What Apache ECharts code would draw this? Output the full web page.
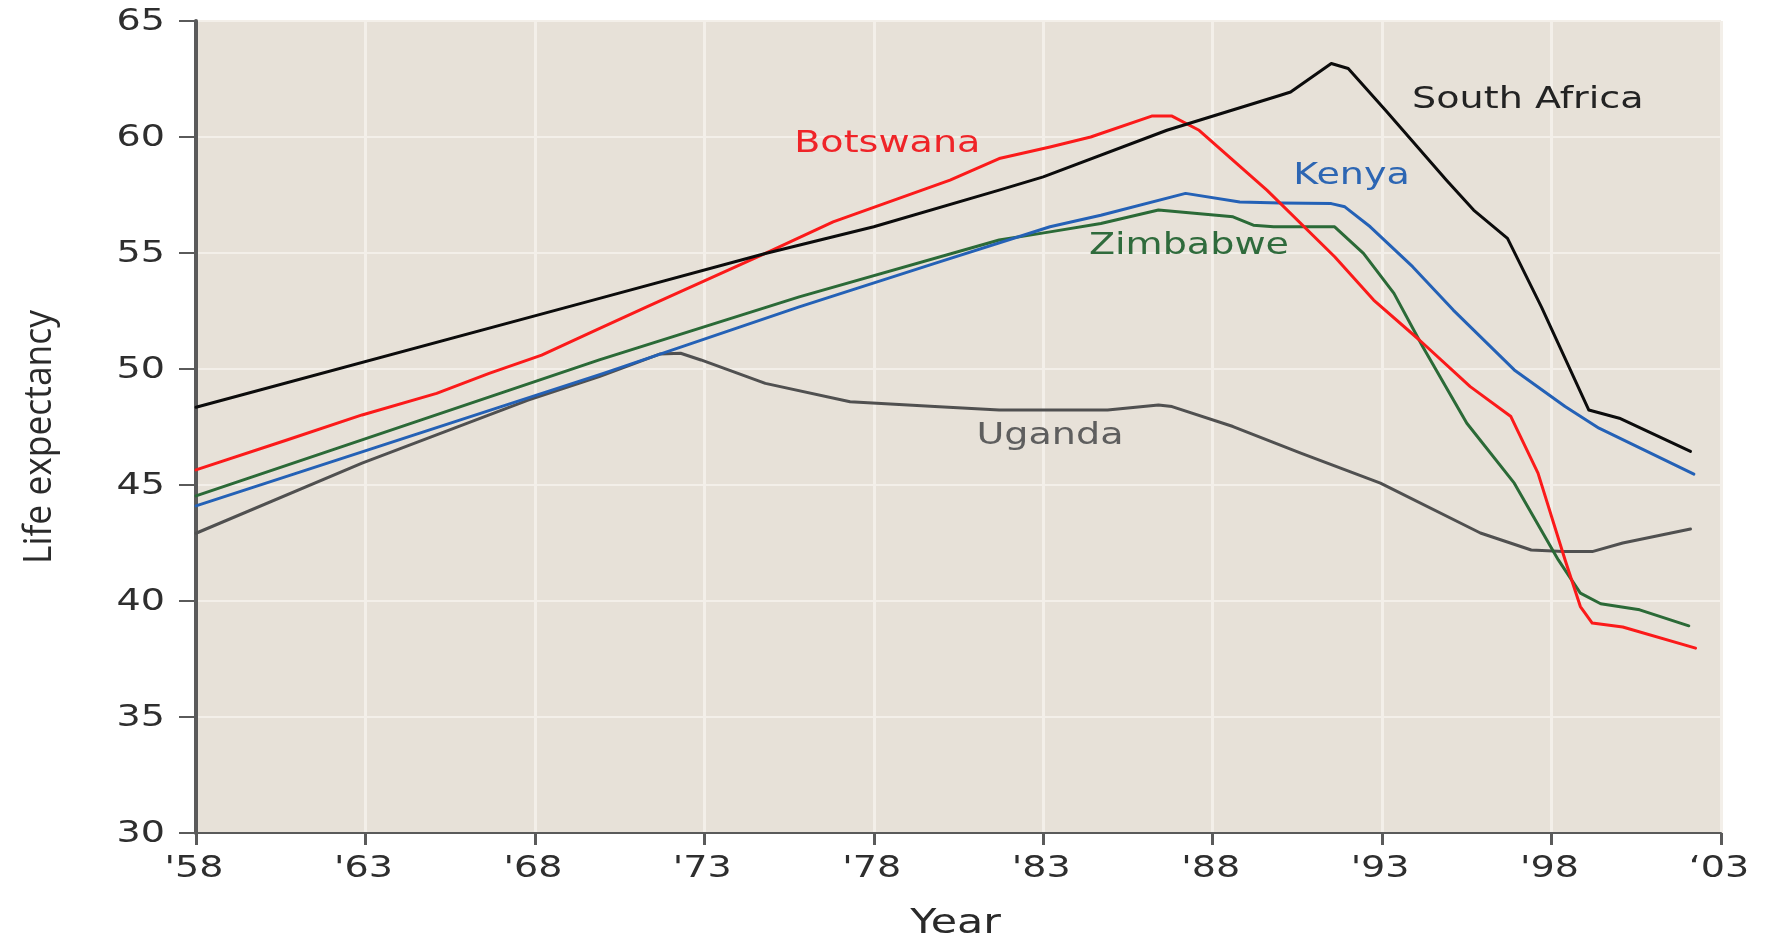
<!DOCTYPE html>
<html>
<head>
<meta charset="utf-8">
<title>Life expectancy</title>
<script src="https://cdn.jsdelivr.net/npm/echarts@6/dist/echarts.min.js"></script>
<style>
  html, body { margin: 0; padding: 0; background: #ffffff; }
  #chart { width: 1770px; height: 937px; }
</style>
</head>
<body>
<div id="chart"></div>
<script>
// Life expectancy (years) by country, 1958–2002
const southAfricaYears  = [1958, 1969.8, 1974.8, 1978.0, 1981.7, 1983.0, 1986.65, 1990.0, 1990.3, 1991.5, 1992.0, 1993.1, 1994.9, 1995.7, 1996.7, 1997.7, 1999.1, 2000.0, 2002.1];
const southAfricaValues = [48.35, 53.0, 54.98, 56.13, 57.71, 58.28, 60.29, 61.8, 61.94, 63.17, 62.95, 61.15, 58.14, 56.85, 55.63, 52.68, 48.23, 47.88, 46.45];

const botswanaYears  = [1958, 1960.66, 1962.9, 1965.1, 1966.65, 1968.2, 1969.8, 1971.3, 1974.8, 1976.8, 1980.25, 1981.7, 1983.2, 1984.4, 1986.2, 1986.8, 1987.6, 1989.6, 1991.6, 1992.75, 1994.1, 1995.6, 1996.8, 1997.6, 1998.4, 1998.85, 1999.2, 2000.1, 2002.25];
const botswanaValues = [45.65, 46.93, 48.02, 48.95, 49.81, 50.6, 51.68, 52.68, 54.98, 56.34, 58.14, 59.07, 59.57, 60.0, 60.9, 60.9, 60.29, 57.71, 54.84, 52.97, 51.25, 49.24, 47.95, 45.51, 41.77, 39.76, 39.05, 38.88, 37.97];

const kenyaYears  = [1958, 1970.0, 1975.8, 1979.8, 1983.2, 1984.7, 1987.2, 1988.8, 1990.0, 1991.5, 1991.9, 1992.65, 1993.9, 1995.1, 1996.9, 1998.4, 1999.4, 2002.2];
const kenyaValues = [44.1, 49.8, 52.68, 54.55, 56.13, 56.63, 57.57, 57.2, 57.16, 57.13, 56.99, 56.13, 54.41, 52.54, 49.96, 48.38, 47.45, 45.47];

const zimbabweYears  = [1958, 1969.9, 1975.8, 1981.7, 1983.2, 1984.7, 1986.4, 1988.6, 1989.2, 1989.8, 1991.6, 1992.45, 1993.35, 1994.2, 1995.5, 1996.9, 1998.2, 1998.85, 1999.45, 2000.6, 2002.05];
const zimbabweValues = [44.53, 50.39, 53.11, 55.56, 55.91, 56.27, 56.85, 56.56, 56.2, 56.13, 56.13, 54.98, 53.26, 50.96, 47.66, 45.08, 41.77, 40.34, 39.88, 39.62, 38.93];

const ugandaYears  = [1958, 1962.9, 1967.8, 1969.9, 1971.7, 1972.3, 1972.9, 1974.8, 1977.3, 1979.8, 1981.7, 1984.9, 1986.4, 1986.8, 1988.6, 1990.6, 1992.95, 1995.9, 1997.4, 1998.35, 1999.2, 2000.1, 2002.1];
const ugandaValues = [42.92, 45.94, 48.66, 49.67, 50.65, 50.68, 50.39, 49.38, 48.59, 48.38, 48.23, 48.23, 48.45, 48.38, 47.52, 46.37, 45.08, 42.93, 42.2, 42.13, 42.13, 42.5, 43.1];

// Axis ticks
const xTickYears = [1958, 1963, 1968, 1973, 1978, 1983, 1988, 1993, 1998, 2003];
const xTickLabels = ["'58", "'63", "'68", "'73", "'78", "'83", "'88", "'93", "'98", "\u201803"];
const yTickValues = [30, 35, 40, 45, 50, 55, 60, 65];

const pairs = (xs, ys) => xs.map((x, i) => [x, ys[i]]);

const seriesDefs = [
  { name: 'Uganda',       years: ugandaYears,      values: ugandaValues,      color: '#505050', labelColor: '#5e5e5e', at: [1983.2, 47.1] },
  { name: 'Zimbabwe',     years: zimbabweYears,    values: zimbabweValues,    color: '#2b6a37', labelColor: '#2f6b3c', at: [1987.3, 55.3] },
  { name: 'Kenya',        years: kenyaYears,       values: kenyaValues,       color: '#2461b6', labelColor: '#2d66b3', at: [1992.1, 58.3] },
  { name: 'Botswana',     years: botswanaYears,    values: botswanaValues,    color: '#fb1a1a', labelColor: '#ef2428', at: [1978.4, 59.7] },
  { name: 'South Africa', years: southAfricaYears, values: southAfricaValues, color: '#0c0c0c', labelColor: '#232323', at: [1997.3, 61.6] }
];

const TEXT_FONT = '"DejaVu Sans", Verdana, sans-serif';
const STRETCH = 1.27;

const chart = echarts.init(document.getElementById('chart'), null, { renderer: 'canvas' });

const option = {
  animation: false,
  backgroundColor: '#ffffff',
  grid: {
    left: 196, right: 49, top: 21, bottom: 104,
    show: true, backgroundColor: '#e7e1d8', borderWidth: 0
  },
  xAxis: {
    type: 'value', min: 1958, max: 2003, interval: 5,
    axisLine: { show: true, onZero: false, lineStyle: { color: '#5a5a5a', width: 2 } },
    axisTick: { show: true, length: 12, lineStyle: { color: '#5a5a5a', width: 3 } },
    axisLabel: { show: false },
    splitLine: { show: true, lineStyle: { color: '#f3efe9', width: 3 } }
  },
  yAxis: {
    type: 'value', min: 30, max: 65, interval: 5,
    axisLine: { show: true, onZero: false, lineStyle: { color: '#5a5a5a', width: 4 } },
    axisTick: { show: true, length: 17, lineStyle: { color: '#5a5a5a', width: 2 } },
    axisLabel: { show: false },
    splitLine: { show: true, lineStyle: { color: '#f3efe9', width: 2 } }
  },
  series: seriesDefs.map(s => ({
    name: s.name,
    type: 'line',
    data: pairs(s.years, s.values),
    showSymbol: false,
    symbol: 'none',
    smooth: false,
    lineStyle: { color: s.color, width: 3, join: 'round', cap: 'round' },
    itemStyle: { color: s.color },
    z: 3
  }))
};

chart.setOption(option);

// Text is laid out from the axis scales, drawn wide like the rest of the figure
function toPx(x, y) { return chart.convertToPixel({ gridIndex: 0 }, [x, y]); }

function wideText(x, y, text, opts) {
  return {
    type: 'text',
    x: x, y: y,
    scaleX: opts.scaleX != null ? opts.scaleX : STRETCH,
    scaleY: opts.scaleY != null ? opts.scaleY : 1,
    rotation: opts.rotation || 0,
    z: 10,
    silent: true,
    style: {
      text: text,
      x: 0, y: 0,
      font: opts.font,
      fill: opts.fill,
      align: opts.align || 'center',
      textAlign: opts.align || 'center',
      verticalAlign: 'middle',
      textVerticalAlign: 'middle'
    }
  };
}

const graphics = [];
const axisBottom = toPx(1958, 30)[1];
const axisLeft = toPx(1958, 30)[0];

yTickValues.forEach(v => {
  const p = toPx(1958, v);
  graphics.push(wideText(axisLeft - 31, p[1] + 1.5, String(v), {
    font: '30px ' + TEXT_FONT, fill: '#2e2e2e', align: 'right'
  }));
});

xTickYears.forEach((yr, i) => {
  const p = toPx(yr, 30);
  graphics.push(wideText(p[0] - 2, axisBottom + 36, xTickLabels[i], {
    font: '30px ' + TEXT_FONT, fill: '#2e2e2e'
  }));
});

seriesDefs.forEach(s => {
  const p = toPx(s.at[0], s.at[1]);
  graphics.push(wideText(p[0], p[1], s.name, {
    font: '30px ' + TEXT_FONT, fill: s.labelColor
  }));
});

// Axis titles
const centerX = (toPx(1958, 30)[0] + toPx(2003, 30)[0]) / 2;
const centerY = (toPx(1958, 30)[1] + toPx(1958, 65)[1]) / 2;
graphics.push(wideText(centerX - 3, axisBottom + 91, 'Year', {
  font: '34px ' + TEXT_FONT, fill: '#2a2a2a', scaleX: 1.26
}));
graphics.push(wideText(40, centerY + 10, 'Life expectancy', {
  font: '30px "Open Sans", "Noto Sans", sans-serif', fill: '#2a2a2a',
  rotation: Math.PI / 2, scaleX: 1.18, scaleY: 1.3
}));

chart.setOption({ graphic: { elements: graphics } });
</script>
</body>
</html>
